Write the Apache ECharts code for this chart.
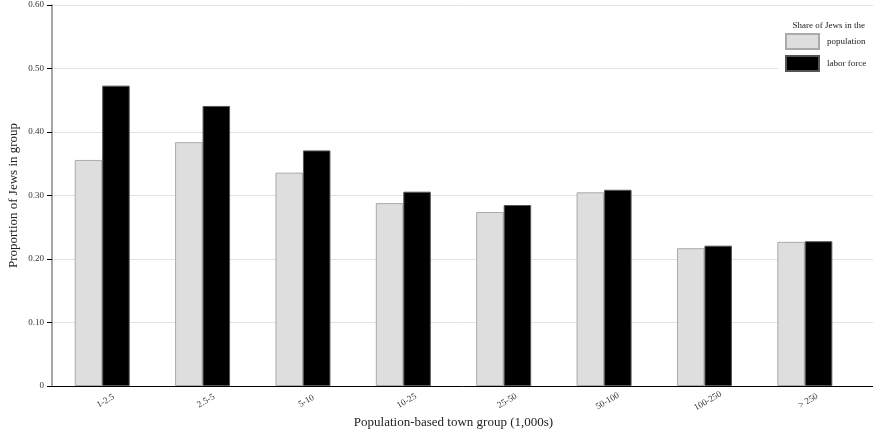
<!DOCTYPE html>
<html>
<head>
<meta charset="utf-8">
<script src="https://cdn.jsdelivr.net/npm/echarts@6/dist/echarts.min.js"></script>
<style>html,body{margin:0;padding:0;background:#fff}#c{width:873px;height:435px}</style>
</head>
<body>
<div id="c"></div>
<script>
var categories = ['1-2.5', '2.5-5', '5-10', '10-25', '25-50', '50-100', '100-250', '> 250'];
var populationShare = [0.356, 0.384, 0.336, 0.288, 0.274, 0.305, 0.217, 0.227];
var laborForceShare = [0.473, 0.441, 0.371, 0.306, 0.285, 0.309, 0.221, 0.228];
var yTicks = [0, 0.1, 0.2, 0.3, 0.4, 0.5, 0.6];

var FONT = '"Liberation Serif", "DejaVu Serif", serif';
var chart = echarts.init(document.getElementById('c'), null, {renderer: 'canvas'});
chart.setOption({
  backgroundColor: '#fff',
  animation: false,
  textStyle: {fontFamily: FONT},
  title: {
    text: 'Share of Jews in the',
    right: 3, top: 16,
    textStyle: {fontFamily: FONT, fontSize: 9, fontWeight: 'normal', color: '#222'}
  },
  legend: {
    orient: 'vertical',
    left: 778, top: 33,
    padding: [0, 7, 0, 7],
    backgroundColor: '#fff',
    itemWidth: 33, itemHeight: 15, itemGap: 5,
    icon: 'rect',
    textStyle: {fontFamily: FONT, fontSize: 9, color: '#222', padding: [0, 0, 0, 3]},
    data: ['population', 'labor force']
  },
  grid: [
    {left: 52, right: 0, top: 5, bottom: 49, outerBoundsMode: 'none', containLabel: false},
    {left: 52, right: 18, top: 5, bottom: 49, outerBoundsMode: 'none', containLabel: false}
  ],
  xAxis: [
    {gridIndex: 0, type: 'value', min: 0, max: 1, axisLine: {show: true, lineStyle: {color: '#000', width: 1}},
     axisTick: {show: false}, axisLabel: {show: false}, splitLine: {show: false}},
    {gridIndex: 1, type: 'category', data: categories,
     axisLine: {show: false}, axisTick: {show: false},
     axisLabel: {rotate: 30, align: 'center', verticalAlign: 'middle', margin: 17, fontFamily: FONT, fontSize: 9, color: '#333', padding: [0, 0, 0, 8]},
     name: 'Population-based town group (1,000s)', nameLocation: 'middle', nameGap: 30, nameMoveOverlap: false,
     nameTextStyle: {fontFamily: FONT, fontSize: 13, color: '#222'}}
  ],
  yAxis: [
    {gridIndex: 0, type: 'value', min: 0, max: 0.6, interval: 0.1,
     axisLine: {show: true, lineStyle: {color: '#888', width: 1.5}},
     axisTick: {show: true, length: 5, lineStyle: {color: '#000'}},
     axisLabel: {fontFamily: FONT, fontSize: 9, color: '#333', margin: 8,
       formatter: function (v) { return v === 0 ? '0' : v.toFixed(2); }},
     splitLine: {show: true, lineStyle: {color: '#e2e2e2', width: 1}},
     name: 'Proportion of Jews in group', nameLocation: 'middle', nameGap: 32, nameMoveOverlap: false,
     nameTextStyle: {fontFamily: FONT, fontSize: 13, color: '#222'}},
    {gridIndex: 1, type: 'value', min: 0, max: 0.6, show: false}
  ],
  series: [
    {name: 'population', type: 'bar', xAxisIndex: 1, yAxisIndex: 1, data: populationShare,
     barWidth: 27.5, barGap: '0%',
     itemStyle: {color: '#dedede', borderColor: '#aaa', borderWidth: 1}},
    {name: 'labor force', type: 'bar', xAxisIndex: 1, yAxisIndex: 1, data: laborForceShare,
     barWidth: 27.5, barGap: '0%',
     itemStyle: {color: '#000', borderColor: '#555', borderWidth: 1}}
  ]
});
</script>
</body>
</html>
